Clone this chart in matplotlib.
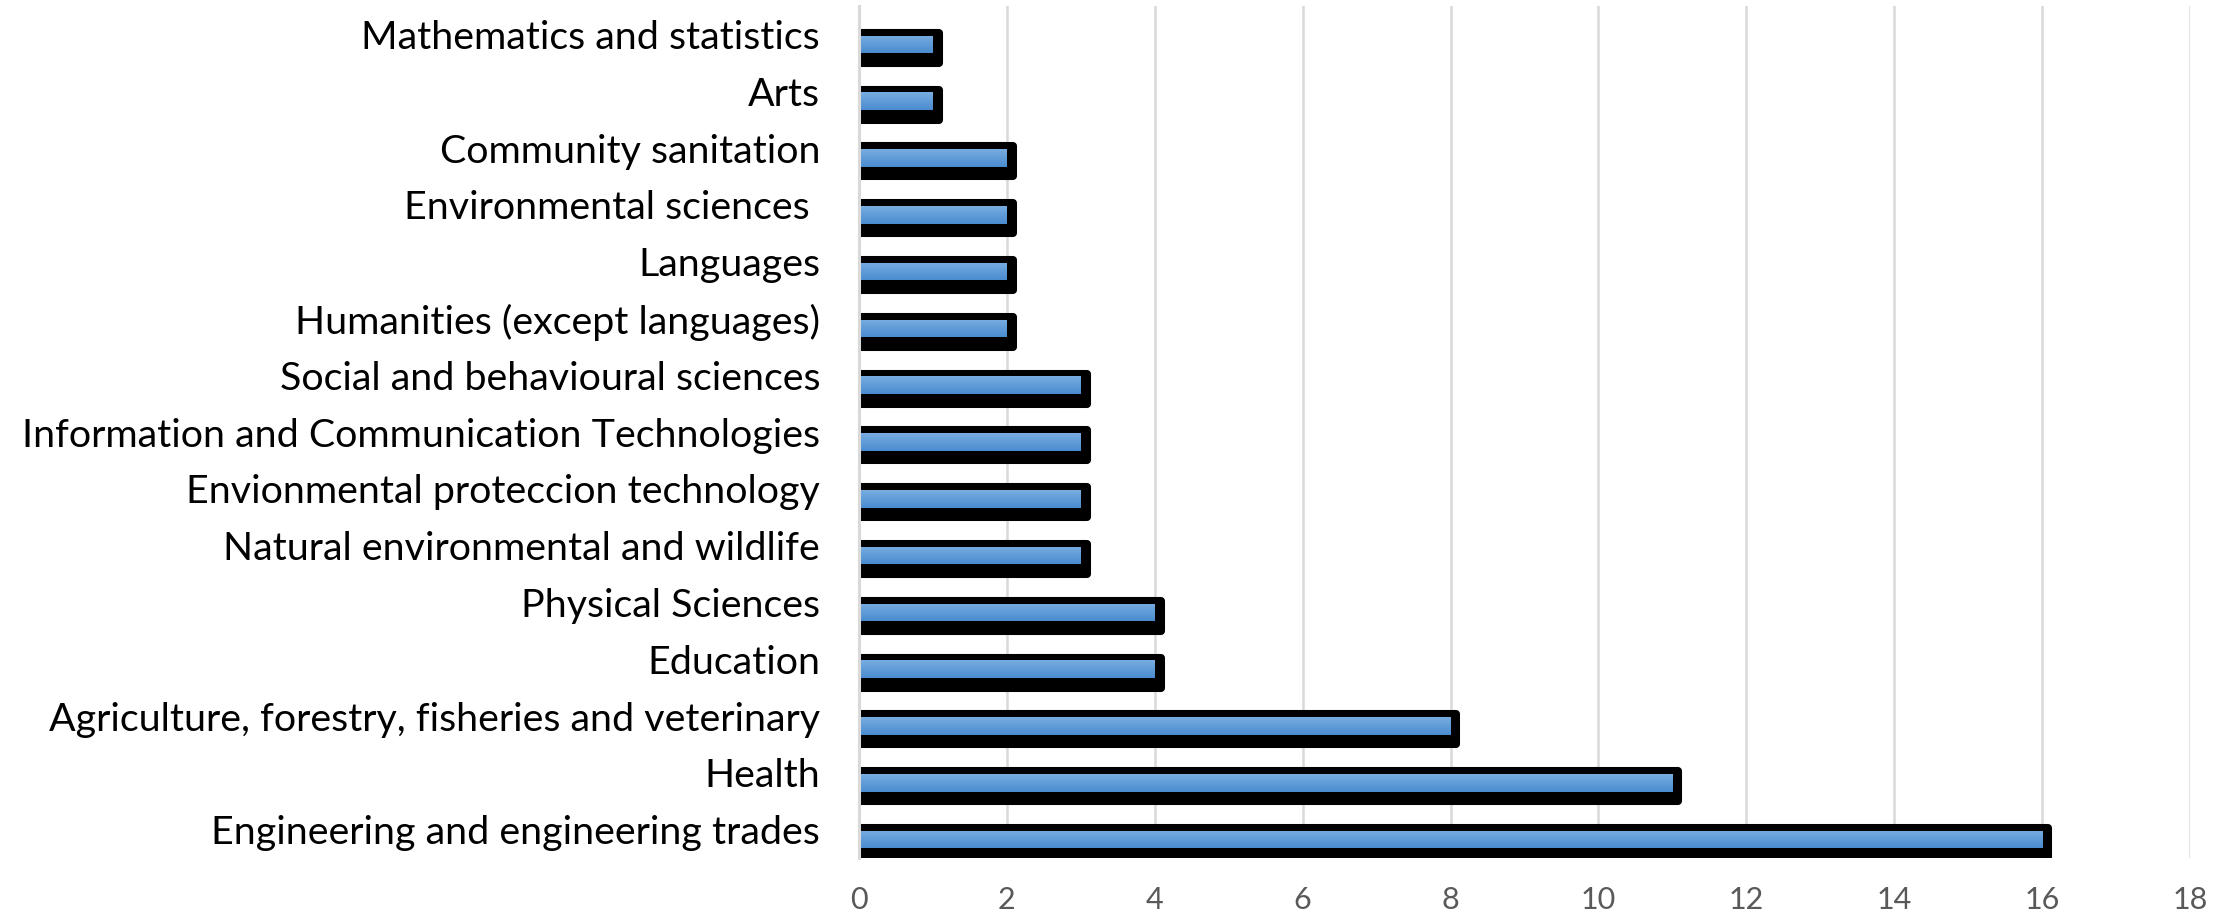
import numpy as np
import matplotlib.pyplot as plt
from matplotlib.colors import LinearSegmentedColormap

# categories top -> bottom, as in the chart
fields = [
    "Mathematics and statistics",
    "Arts",
    "Community sanitation",
    "Environmental sciences ",
    "Languages",
    "Humanities (except languages)",
    "Social and behavioural sciences",
    "Information and Communication Technologies",
    "Envionmental proteccion technology",
    "Natural environmental and wildlife",
    "Physical Sciences",
    "Education",
    "Agriculture, forestry, fisheries and veterinary",
    "Health",
    "Engineering and engineering trades",
]
counts = [1, 1, 2, 2, 2, 2, 3, 3, 3, 3, 4, 4, 8, 11, 16]
x_ticks = list(range(0, 19, 2))

fig = plt.figure(figsize=(22.34, 9.13), dpi=100)
ax = fig.add_axes([0.3845, 0.0602, 0.5958, 0.9332])

pos = np.arange(len(fields))
vals = np.array(counts, dtype=float)

# black "shadow" body, rounded on the right through a thick round-joined edge
ax.barh(pos + 0.235, vals + 0.08, height=0.53, left=0, color='black',
        edgecolor='black', lw=5.8, joinstyle='round', zorder=2)

# blue front face with vertical gradient
grad = LinearSegmentedColormap.from_list('bl', ['#78ade0', '#4a8bd0'])
faces = ax.barh(pos + 0.175, vals, height=0.31, left=0, color='#5f9bd8',
                lw=0, zorder=3)
g = np.linspace(0, 1, 64).reshape(-1, 1)
for p, v, rect in zip(pos, vals, faces):
    im = ax.imshow(g, cmap=grad, aspect='auto', zorder=4,
                   extent=(0, v, p + 0.33, p + 0.02), interpolation='bilinear')
    im.set_clip_path(rect)

ax.set_xlim(0, 18)
ax.set_ylim(len(fields) - 0.5, -0.5)
ax.set_aspect('auto')

ax.set_xticks(x_ticks)
ax.set_xticklabels([str(t) for t in x_ticks], fontsize=22, color='#595959',
                   family='Lato')
ax.set_yticks(pos)
ax.set_yticklabels(fields, fontsize=28.4, color='black', family='Lato')
ax.tick_params(axis='both', length=0)
ax.tick_params(axis='y', pad=28)
ax.tick_params(axis='x', pad=20)

ax.grid(axis='x', color='#d9d9d9', lw=1.8, zorder=0)
ax.set_axisbelow(True)
for s in ['top', 'right', 'bottom']:
    ax.spines[s].set_visible(False)
ax.spines['left'].set_color('#d9d9d9')
ax.spines['left'].set_linewidth(2.2)
ax.spines['left'].set_zorder(5)

plt.savefig('out.png', dpi=100)
